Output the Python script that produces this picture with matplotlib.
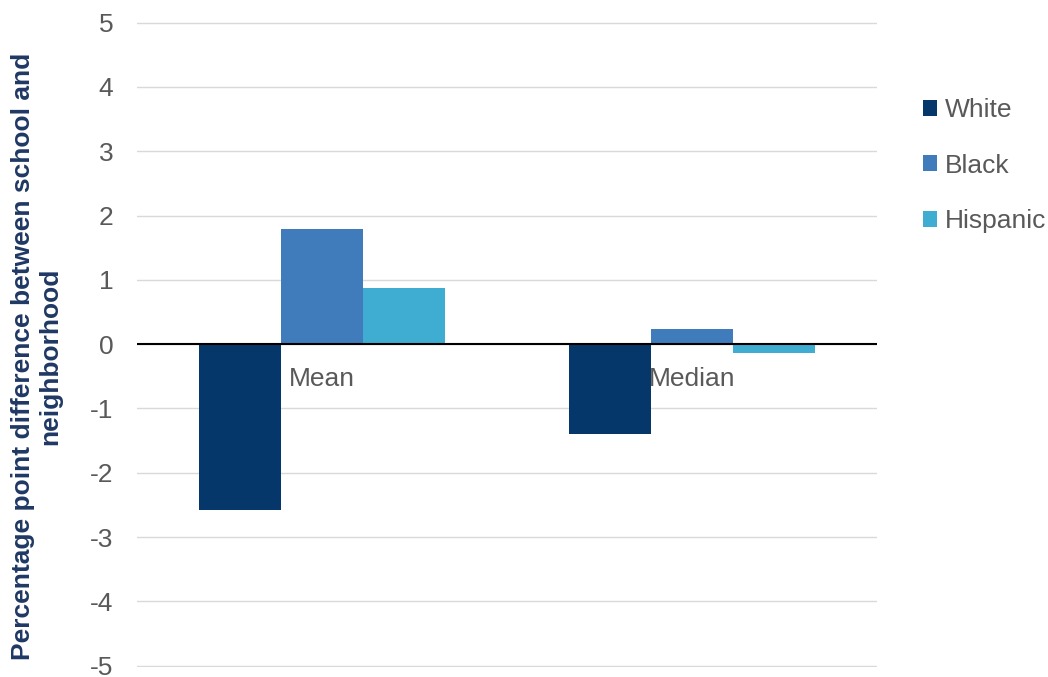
import matplotlib.pyplot as plt
import numpy as np
from matplotlib.patches import Patch

# diferenca em pontos percentuais entre escola e vizinhanca
categorias = ['Mean', 'Median']
grupos = ['White', 'Black', 'Hispanic']
white = [-2.58, -1.39]
black = [1.79, 0.24]
hispanic = [0.87, -0.14]
cores = ['#06376A', '#407CBB', '#3FACD1']

plt.rcParams['font.family'] = ['Liberation Sans', 'DejaVu Sans']
cinza = '#595959'

fig = plt.figure(figsize=(10.48, 6.77), dpi=100)
ax = fig.add_axes([0.1307, 0.0148, 0.7061, 0.9527])

x = np.arange(len(categorias))
largura = 0.222
for k, (serie, cor) in enumerate(zip([white, black, hispanic], cores)):
    ax.bar(x + (k - 1) * largura, serie, width=largura, color=cor, zorder=3)

ax.set_xlim(-0.5, 1.5)
ax.set_ylim(-5.02, 5.01)
ax.set_yticks(range(-5, 6))
ax.set_yticklabels([str(v) for v in range(-5, 6)], fontsize=19, color=cinza)
ax.tick_params(axis='y', length=0, pad=17)
ax.set_xticks([])
ax.grid(axis='y', color='#D9D9D9', linewidth=1, zorder=0)
ax.axhline(0, color='black', linewidth=1.5, zorder=4)
for lado in ax.spines.values():
    lado.set_visible(False)

# rotulos das categorias logo abaixo do zero
for xi, nome in zip(x, categorias):
    ax.text(xi, -0.36, nome, ha='center', va='top', fontsize=19, color=cinza, zorder=5)

fig.text(0.035, 0.473, 'Percentage point difference between school and\nneighborhood',
         rotation=90, ha='center', va='center', fontsize=19, fontweight='bold',
         color='#1F3864', linespacing=1.2)

handles = [Patch(facecolor=c, edgecolor='none') for c in cores]
fig.legend(handles, grupos, loc='upper left', bbox_to_anchor=(0.8705, 0.871),
           frameon=False, fontsize=19, labelcolor=cinza, handlelength=0.55,
           handleheight=0.55, handletextpad=0.3, labelspacing=1.2, borderaxespad=0)

plt.savefig('out.png', dpi=100)
